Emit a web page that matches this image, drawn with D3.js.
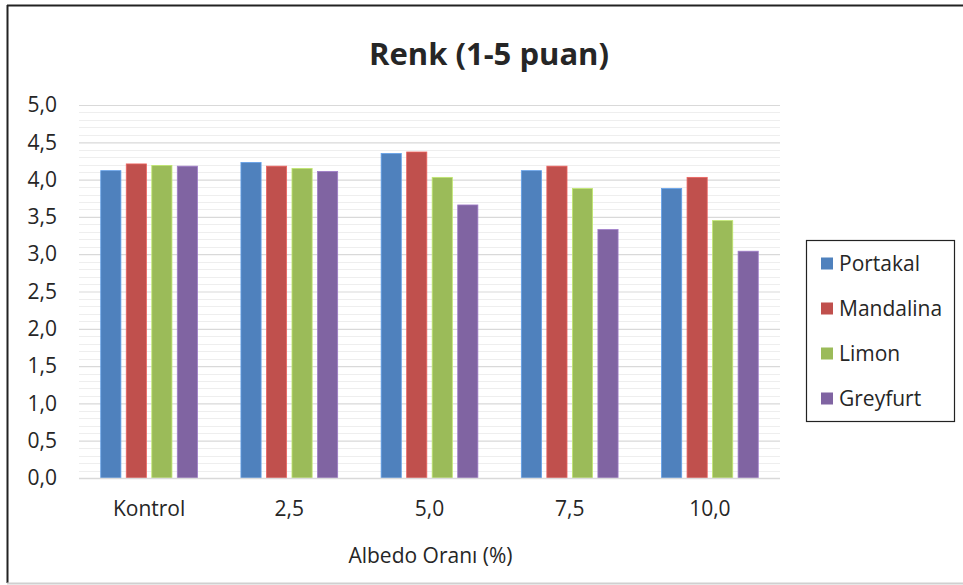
<!DOCTYPE html>
<html>
<head>
<meta charset="utf-8">
<script src="https://cdn.jsdelivr.net/npm/d3@7"></script>
<style>
  html, body { margin: 0; padding: 0; background: #fff; }
  svg { display: block; }
  text { font-family: "Open Sans", Lato, sans-serif; fill: #262626; }
</style>
</head>
<body>
<svg id="chart" width="963" height="585"></svg>
<script>
const categories = ["Kontrol", "2,5", "5,0", "7,5", "10,0"];
const seriesNames = ["Portakal", "Mandalina", "Limon", "Greyfurt"];
const portakal  = [4.12, 4.23, 4.35, 4.12, 3.88];
const mandalina = [4.21, 4.18, 4.37, 4.18, 4.03];
const limon     = [4.19, 4.15, 4.03, 3.88, 3.45];
const greyfurt  = [4.18, 4.11, 3.66, 3.33, 3.04];
const seriesColors = ["#4F81BD", "#C0504D", "#9BBB59", "#8064A2"];
const yTicks = [0, 0.5, 1.0, 1.5, 2.0, 2.5, 3.0, 3.5, 4.0, 4.5, 5.0];
const yMinorTicks = d3.range(0, 50).map(i => i / 10);
const titleText = "Renk (1-5 puan)";
const xAxisTitle = "Albedo Oranı (%)";

const seriesValues = [portakal, mandalina, limon, greyfurt];
const data = categories.map((c, i) => ({
  cat: c,
  vals: seriesNames.map((s, j) => ({ s, j, v: seriesValues[j][i] }))
}));

const FONT = "'Open Sans', Lato, sans-serif";
const FS = 21;
const svg = d3.select("#chart");
const W = 963, H = 585;
const plot = { left: 79, right: 780, top: 105, bottom: 478 };

// outer frame
svg.append("rect").attr("x", 0).attr("y", 0).attr("width", W).attr("height", H).attr("fill", "#fff");
svg.append("line").attr("x1", 7).attr("x2", W).attr("y1", 5.5).attr("y2", 5.5)
  .attr("stroke", "#222").attr("stroke-width", 2);
svg.append("line").attr("x1", 7.5).attr("x2", 7.5).attr("y1", 5).attr("y2", 583)
  .attr("stroke", "#222").attr("stroke-width", 2);
svg.append("line").attr("x1", 7).attr("x2", W).attr("y1", 583.5).attr("y2", 583.5)
  .attr("stroke", "#d0d0d0").attr("stroke-width", 2);

const x0 = d3.scaleBand().domain(categories).range([plot.left, plot.right])
  .paddingInner(0.31).paddingOuter(0.155);
const x1 = d3.scaleBand().domain(seriesNames).range([0, x0.bandwidth()]).paddingInner(0.21);
const y = d3.scaleLinear().domain([0, 5]).range([plot.bottom, plot.top]);

// minor gridlines
svg.append("g").selectAll("line").data(yMinorTicks.filter(v => Math.abs(v * 2 - Math.round(v * 2)) > 1e-6))
  .join("line")
  .attr("x1", plot.left).attr("x2", plot.right)
  .attr("y1", d => Math.round(y(d)) + 0.5).attr("y2", d => Math.round(y(d)) + 0.5)
  .attr("stroke", "#eeeeee").attr("stroke-width", 1);

// major gridlines via axis
const yAxis = d3.axisLeft(y).tickValues(yTicks).tickSize(-(plot.right - plot.left))
  .tickPadding(22).tickFormat(d => d3.format(".1f")(d).replace(".", ","));
const gy = svg.append("g").attr("transform", `translate(${plot.left},0)`).call(yAxis);
gy.select(".domain").remove();
gy.selectAll(".tick line").attr("stroke", "#d9d9d9").attr("stroke-width", 1.2);
gy.selectAll(".tick text").attr("font-size", FS).attr("fill", "#262626")
  .style("font-family", FONT);

// bars
const groups = svg.append("g").selectAll("g").data(data).join("g")
  .attr("transform", d => `translate(${x0(d.cat)},0)`);
groups.selectAll("rect").data(d => d.vals).join("rect")
  .attr("x", d => x1(d.s))
  .attr("width", x1.bandwidth())
  .attr("y", d => y(d.v))
  .attr("height", d => y(0) - y(d.v))
  .attr("fill", d => seriesColors[d.j])
  .attr("stroke", d => d3.color(seriesColors[d.j]).brighter(0.6))
  .attr("stroke-width", 0.8);

// baseline
svg.append("line").attr("x1", plot.left).attr("x2", plot.right)
  .attr("y1", y(0) + 0.5).attr("y2", y(0) + 0.5).attr("stroke", "#d9d9d9").attr("stroke-width", 1.5);

// x axis labels
const xAxis = d3.axisBottom(x0).tickSize(0).tickPadding(23);
const gx = svg.append("g").attr("transform", `translate(0,${plot.bottom})`).call(xAxis);
gx.select(".domain").remove();
gx.selectAll(".tick text").attr("font-size", FS).attr("fill", "#262626")
  .style("font-family", FONT);

// title
svg.append("text").attr("x", 489).attr("y", 65).attr("text-anchor", "middle")
  .attr("font-size", 31).attr("font-weight", "bold").attr("fill", "#000").text(titleText);

// axis title
svg.append("text").attr("x", (plot.left + plot.right) / 2 + 1).attr("y", 563).attr("text-anchor", "middle")
  .attr("font-size", FS).text(xAxisTitle);

// legend
const legend = svg.append("g");
legend.append("rect").attr("x", 806.5).attr("y", 240.5).attr("width", 148).attr("height", 181)
  .attr("fill", "#fff").attr("stroke", "#222").attr("stroke-width", 1.2);
const items = legend.selectAll("g.item").data(seriesNames).join("g").attr("class", "item")
  .attr("transform", (d, i) => `translate(821,${263.5 + i * 45})`);
items.append("rect").attr("x", 0).attr("y", -6).attr("width", 12).attr("height", 12)
  .attr("fill", (d, i) => seriesColors[i]);
items.append("text").attr("x", 18).attr("y", 7.5).attr("font-size", FS).text(d => d);
</script>
</body>
</html>
